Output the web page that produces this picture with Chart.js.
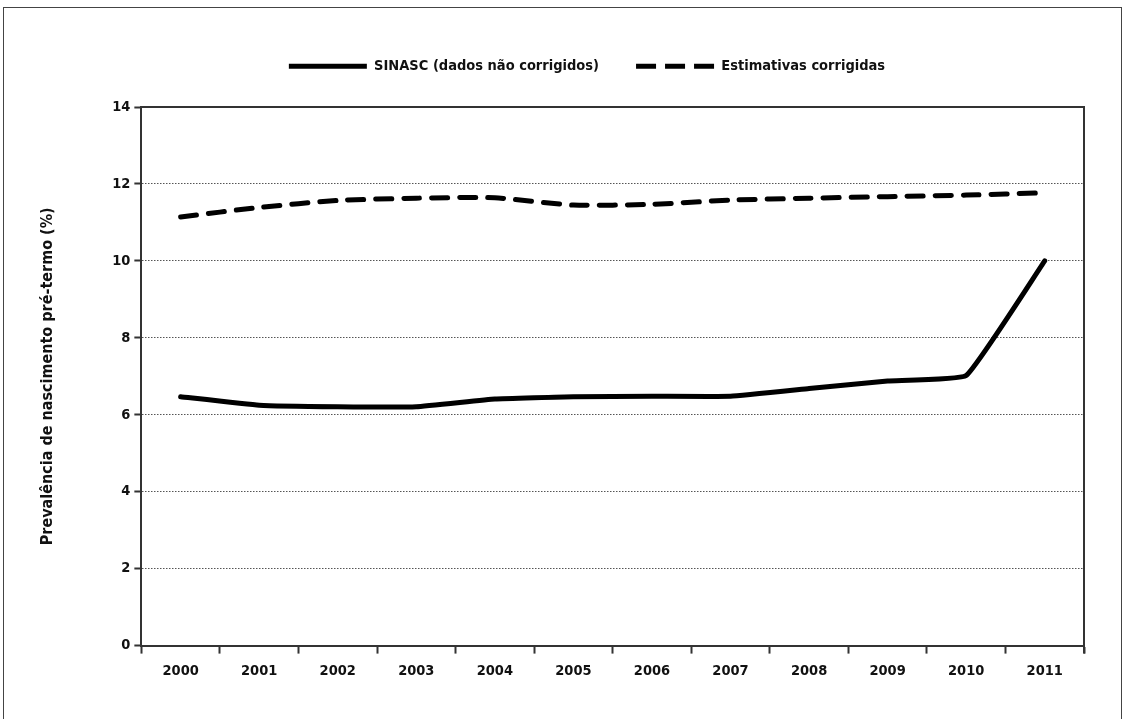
<!DOCTYPE html>
<html>
<head>
<meta charset="utf-8">
<script src="https://cdn.jsdelivr.net/npm/chart.js@4.4.1/dist/chart.umd.min.js"></script>
<style>
	html, body { margin: 0; padding: 0; background: #fff; }
	#moldura {
		position: absolute; left: 3px; top: 7px; width: 1119px; height: 730px;
		border: 1.5px solid #444; box-sizing: border-box;
	}
	#caixa { position: absolute; left: 0; top: 0; width: 1128px; height: 719px; }
</style>
</head>
<body>
<div id="moldura"></div>
<div id="caixa"><canvas id="prevalencia"></canvas></div>
<script>
(() => {

	const anos = ["2000", "2001", "2002", "2003", "2004", "2005", "2006", "2007", "2008", "2009", "2010", "2011"];
	const sinasc = [6.47, 6.25, 6.21, 6.21, 6.41, 6.47, 6.48, 6.48, 6.68, 6.88, 7.02, 10.0];
	const corrigidas = [11.14, 11.39, 11.57, 11.63, 11.64, 11.45, 11.47, 11.58, 11.63, 11.67, 11.71, 11.77];
	const ticksY = [0, 2, 4, 6, 8, 10, 12, 14];

	const fonte = "'Liberation Sans Narrow', 'DejaVu Sans Condensed', sans-serif";
	const corTexto = "#111";

	// linhas de cima e da direita da area do grafico
	const moldura = {
		id: "moldura",
		afterDraw(chart) {
			const { ctx, chartArea: a } = chart;
			ctx.save();
			ctx.strokeStyle = "#333";
			ctx.lineWidth = 2;
			ctx.beginPath();
			ctx.moveTo(a.left, a.top);
			ctx.lineTo(a.right, a.top);
			ctx.lineTo(a.right, a.bottom + 8);
			ctx.stroke();
			ctx.restore();
		}
	};

	// espaco entre a legenda e o grafico, e legenda um pouco a direita
	const ajusteLegenda = {
		id: "ajusteLegenda",
		beforeInit(chart) {
			const fitOriginal = chart.legend.fit;
			chart.legend.fit = function() {
				fitOriginal.bind(chart.legend)();
				this.height = 85;
			};
		},
		afterLayout(chart) {
			chart.legend.left += 26;
			chart.legend.right += 26;
		}
	};

	const geraLegenda = (chart) => {
		const itens = Chart.defaults.plugins.legend.labels.generateLabels(chart);
		return itens.map(item => {
			const ds = chart.data.datasets[item.datasetIndex];
			item.lineDash = ds.borderDash ? [20, 9] : [];
			item.lineCap = "butt";
			item.lineWidth = 5;
			return item;
		});
	};

	new Chart("prevalencia", {
		type: "line",
		data: {
			labels: anos,
			datasets: [{
				label: "SINASC (dados não corrigidos)",
				data: sinasc,
				borderColor: "#000",
				backgroundColor: "#000",
				borderWidth: 5,
				borderCapStyle: "round",
				pointRadius: 0,
				tension: 0.1,
				pointStyle: "line"
			}, {
				label: "Estimativas corrigidas",
				data: corrigidas,
				borderColor: "#000",
				backgroundColor: "#000",
				borderWidth: 5,
				borderDash: [16, 12],
				borderCapStyle: "round",
				pointRadius: 0,
				tension: 0.2,
				pointStyle: "line"
			}]
		},
		options: {
			responsive: true,
			maintainAspectRatio: false,
			animation: false,
			layout: { padding: { top: 22, left: 38, right: 44, bottom: 30 } },
			plugins: {
				tooltip: { enabled: false },
				legend: {
					position: "top",
					labels: {
						usePointStyle: true,
						pointStyleWidth: 78,
						color: corTexto,
						padding: 37,
						font: { family: fonte, size: 14.5, weight: "bold" },
						generateLabels: geraLegenda
					}
				}
			},
			scales: {
				x: {
					offset: true,
					grid: { offset: true, drawOnChartArea: false, tickLength: 8, tickColor: "#333", tickWidth: 2 },
					border: { color: "#333", width: 2 },
					ticks: { color: corTexto, padding: 9, font: { family: fonte, size: 14.5, weight: "bold" } }
				},
				y: {
					min: 0,
					max: 14,
					afterBuildTicks: (eixo) => { eixo.ticks = ticksY.map(v => ({ value: v })); },
					grid: { color: "#555", lineWidth: 1, tickLength: 7, tickColor: "#333", tickWidth: 2 },
					border: { color: "#333", width: 2, dash: [1.5, 1.5] },
					ticks: { color: corTexto, padding: 4, font: { family: fonte, size: 14.5, weight: "bold" } },
					title: {
						display: true,
						text: "Prevalência de nascimento pré-termo (%)",
						color: corTexto,
						padding: { top: 0, bottom: 51 },
						font: { family: fonte, size: 16, weight: "bold" }
					}
				}
			}
		},
		plugins: [moldura, ajusteLegenda]
	});
})();
</script>
</body>
</html>
